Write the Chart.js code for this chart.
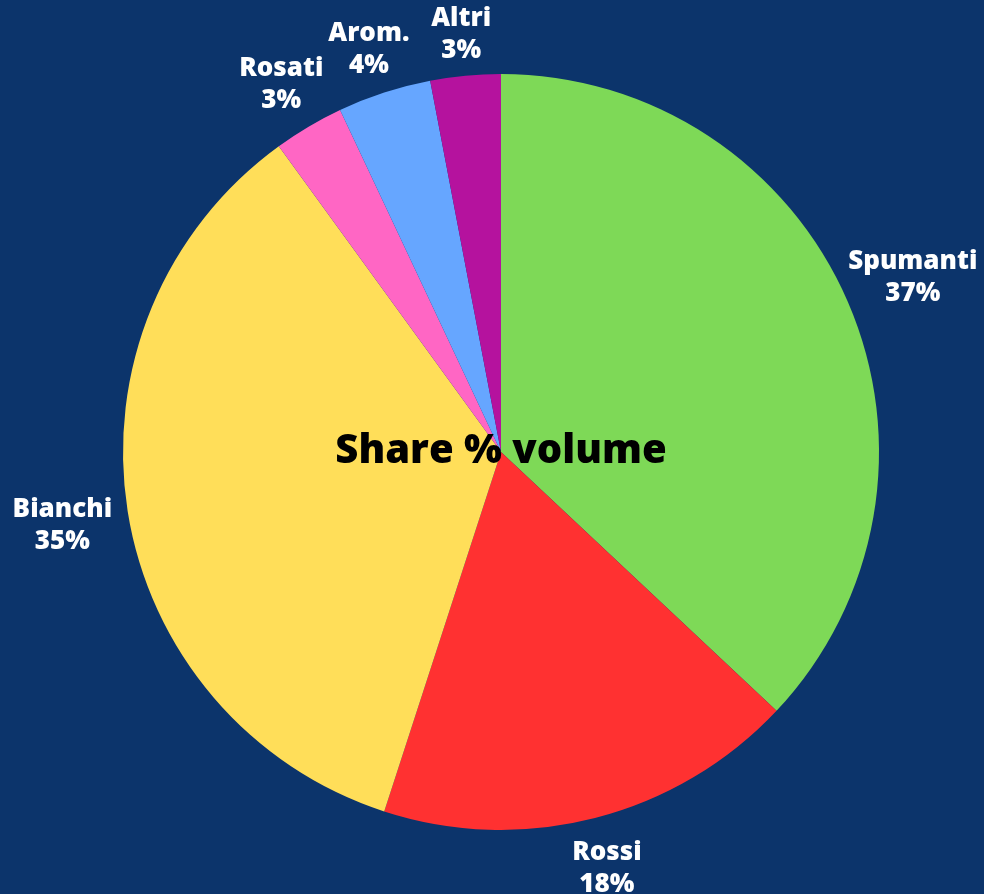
<!DOCTYPE html>
<html lang="it">
  <head>
    <meta charset="UTF-8" />
    <title>Share % volume</title>
    <script src="https://cdn.jsdelivr.net/npm/chart.js@4.4.0/dist/chart.umd.min.js"></script>
    <style>
      body { margin: 0; background: #0c346b; }
      canvas { display: block; }
    </style>
  </head>
  <body>
    <canvas id="myChart" width="984" height="894"></canvas>

    <script>
      const categories = ['Spumanti', 'Rossi', 'Bianchi', 'Rosati', 'Arom.', 'Altri'];
      const shares = [37, 18, 35, 3, 4, 3];
      const colors = ['#7ed957', '#ff3131', '#ffde59', '#ff66c4', '#66a6ff', '#b5129e'];
      const centerTitle = 'Share % volume';

      // labels outside each slice + title in the middle
      const pieLabels = {
        id: 'pieLabels',
        afterDraw(chart) {
          const ctx = chart.ctx;
          const arcs = chart.getDatasetMeta(0).data;
          ctx.save();
          ctx.font = '800 26px "Open Sans"';
          ctx.fillStyle = '#ffffff';
          ctx.textAlign = 'center';
          ctx.textBaseline = 'middle';
          const lh = 32;
          arcs.forEach((arc, i) => {
            const mid = (arc.startAngle + arc.endAngle) / 2;
            const lines = [categories[i], shares[i] + '%'];
            const w = Math.max(...lines.map(l => ctx.measureText(l).width));
            const dist = arc.outerRadius + 44 + Math.abs(Math.cos(mid)) * w / 2 * 0.45;
            const cx = arc.x + Math.cos(mid) * dist;
            const cy = arc.y + Math.sin(mid) * dist + 4;
            ctx.fillText(lines[0], cx, cy - lh / 2);
            ctx.fillText(lines[1], cx, cy + lh / 2);
          });
          const c = arcs[0];
          ctx.font = '800 40px "Open Sans"';
          ctx.fillStyle = '#000000';
          ctx.fillText(centerTitle, c.x, c.y);
          ctx.restore();
        }
      };

      const ctx = document.getElementById('myChart').getContext('2d');
      new Chart(ctx, {
        type: 'pie',
        data: {
          labels: categories,
          datasets: [{
            data: shares,
            backgroundColor: colors,
            borderWidth: 0,
            hoverOffset: 0
          }]
        },
        options: {
          responsive: false,
          animation: false,
          layout: { padding: { left: 123, right: 105, top: 74, bottom: 64 } },
          plugins: {
            legend: { display: false },
            tooltip: { enabled: false }
          }
        },
        plugins: [pieLabels]
      });
    </script>
  </body>
</html>
